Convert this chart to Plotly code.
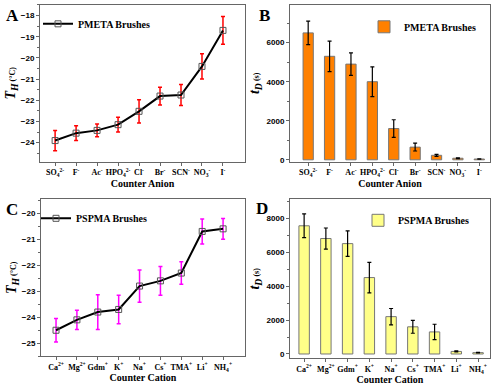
import plotly.graph_objects as go

anions = ["SO<sub>4</sub><sup>2-</sup>", "F<sup>-</sup>", "Ac<sup>-</sup>", "HPO<sub>4</sub><sup>2-</sup>",
          "Cl<sup>-</sup>", "Br<sup>-</sup>", "SCN<sup>-</sup>", "NO<sub>3</sub><sup>-</sup>", "I<sup>-</sup>"]
cations = ["Ca<sup>2+</sup>", "Mg<sup>2+</sup>", "Gdm<sup>+</sup>", "K<sup>+</sup>", "Na<sup>+</sup>",
           "Cs<sup>+</sup>", "TMA<sup>+</sup>", "Li<sup>+</sup>", "NH<sub>4</sub><sup>+</sup>"]

th_pmeta = [-23.9, -23.55, -23.42, -23.15, -22.52, -21.8, -21.75, -20.4, -18.7]
th_pmeta_err = [0.48, 0.35, 0.3, 0.35, 0.55, 0.42, 0.5, 0.6, 0.65]
td_pmeta = [6500, 5300, 4900, 4000, 1600, 650, 230, 80, 40]
td_pmeta_err = [600, 780, 580, 760, 450, 200, 50, 20, 10]

th_pspma = [-24.5, -24.1, -23.8, -23.7, -22.8, -22.6, -22.3, -20.7, -20.6]
th_pspma_err = [0.45, 0.37, 0.67, 0.55, 0.62, 0.55, 0.43, 0.48, 0.4]
td_pspma = [7550, 6800, 6500, 4500, 2200, 1600, 1300, 150, 80]
td_pspma_err = [700, 620, 750, 900, 480, 380, 450, 30, 20]

W, H = 500, 392
def px(x): return x / W
def py(y): return 1 - y / H

serif = "Liberation Serif"
sans = "Liberation Sans"

fig = go.Figure()

# A
fig.add_trace(go.Scatter(x=anions, y=th_pmeta, mode="lines+markers", name="PMETA Brushes",
    line=dict(color="black", width=2),
    marker=dict(symbol="square-open", size=6, color="#555555", line=dict(width=1)),
    error_y=dict(type="data", array=th_pmeta_err, color="#ff0000", thickness=1.5, width=2),
    xaxis="x", yaxis="y", legend="legend"))
# B
fig.add_trace(go.Bar(x=anions, y=td_pmeta, name="PMETA Brushes", width=0.48,
    marker=dict(color="#ff8000", line=dict(color="#777777", width=1)),
    error_y=dict(type="data", array=td_pmeta_err, color="black", thickness=1.2, width=2),
    xaxis="x2", yaxis="y2", legend="legend2"))
# C
fig.add_trace(go.Scatter(x=cations, y=th_pspma, mode="lines+markers", name="PSPMA Brushes",
    line=dict(color="black", width=2),
    marker=dict(symbol="square-open", size=6, color="#555555", line=dict(width=1)),
    error_y=dict(type="data", array=th_pspma_err, color="#ff00ff", thickness=1.5, width=2),
    xaxis="x3", yaxis="y3", legend="legend3"))
# D
fig.add_trace(go.Bar(x=cations, y=td_pspma, name="PSPMA Brushes", width=0.48,
    marker=dict(color="#ffff88", line=dict(color="#777777", width=1)),
    error_y=dict(type="data", array=td_pspma_err, color="black", thickness=1.2, width=2),
    xaxis="x4", yaxis="y4", legend="legend4"))

axcommon = dict(showline=True, mirror=True, linecolor="#666666", linewidth=1, showgrid=False,
                zeroline=False, ticks="outside", ticklen=3, tickcolor="#666666")
xt = dict(tickfont=dict(family=serif, size=8, color="black", weight="bold"), tickangle=0)
yt = dict(tickfont=dict(family=sans, size=8, color="black", weight="bold"))
xtitle_font = dict(family=serif, size=10, color="black", weight="bold")
ytitle_font = dict(family=serif, size=14, color="black", weight="bold")
th_title = "<i>T<sub>H</sub></i><span style='font-size:8px'> (°C)</span>"
td_title = "<i>t<sub>D</sub></i><span style='font-size:8px'> (s)</span>"

fig.update_layout(
    width=W, height=H, margin=dict(l=0, r=0, t=0, b=0),
    paper_bgcolor="white", plot_bgcolor="white", showlegend=True,
    xaxis=dict(domain=[px(40), px(245)], anchor="y", range=[-0.72, 9.05], type="category",
               title=dict(text="Counter Anion", font=xtitle_font, standoff=2), **xt, **axcommon),
    yaxis=dict(domain=[py(163), py(5)], anchor="x", range=[-24.9, -17.5], dtick=1,
               minor=dict(ticks="outside", ticklen=2, dtick=0.5, tickcolor="#666666"),
               title=dict(text=th_title, font=ytitle_font, standoff=1),
               **yt, **axcommon),
    xaxis2=dict(domain=[px(290), px(490)], anchor="y2", range=[-0.85, 8.5], type="category",
                title=dict(text="Counter Anion", font=xtitle_font, standoff=2), **xt, **axcommon),
    yaxis2=dict(domain=[py(163), py(5)], anchor="x2", range=[-100, 7930], dtick=2000,
                minor=dict(ticks="outside", ticklen=2, dtick=1000, tickcolor="#666666"),
                title=dict(text=td_title, font=ytitle_font, standoff=3),
                **yt, **axcommon),
    xaxis3=dict(domain=[px(41), px(245)], anchor="y3", range=[-0.72, 9.05], type="category",
                title=dict(text="Counter Cation", font=xtitle_font, standoff=2), **xt, **axcommon),
    yaxis3=dict(domain=[py(359), py(201)], anchor="x3", range=[-25.5, -19.47], dtick=1,
                minor=dict(ticks="outside", ticklen=2, dtick=0.5, tickcolor="#666666"),
                title=dict(text=th_title, font=ytitle_font, standoff=1),
                **yt, **axcommon),
    xaxis4=dict(domain=[px(290), px(490)], anchor="y4", range=[-0.65, 8.55], type="category",
                title=dict(text="Counter Cation", font=xtitle_font, standoff=2), **xt, **axcommon),
    yaxis4=dict(domain=[py(361), py(201)], anchor="x4", range=[-250, 9100], dtick=2000,
                minor=dict(ticks="outside", ticklen=2, dtick=1000, tickcolor="#666666"),
                title=dict(text=td_title, font=ytitle_font, standoff=3),
                **yt, **axcommon),
)

legfont = dict(family=serif, size=10, color="black", weight="bold")
for name, (lx, ly) in {"legend": (38, 24), "legend2": (364, 27), "legend3": (36, 220), "legend4": (358, 222)}.items():
    fig.update_layout({name: dict(x=px(lx), y=py(ly), xanchor="left", yanchor="middle",
                                  bgcolor="rgba(0,0,0,0)", font=legfont, itemwidth=30,
                                  tracegroupgap=0)})

for txt, x, y in [("A", 12, 16), ("B", 264, 16), ("C", 12, 211), ("D", 262, 210)]:
    fig.add_annotation(text=txt, x=px(x), y=py(y), xref="paper", yref="paper", showarrow=False,
                       xanchor="center", yanchor="middle",
                       font=dict(family=serif, size=17, color="black", weight="bold"))

fig.write_html("out.html", config={"displayModeBar": False},
               post_script="document.body.style.margin='0';document.body.style.overflow='hidden';")
